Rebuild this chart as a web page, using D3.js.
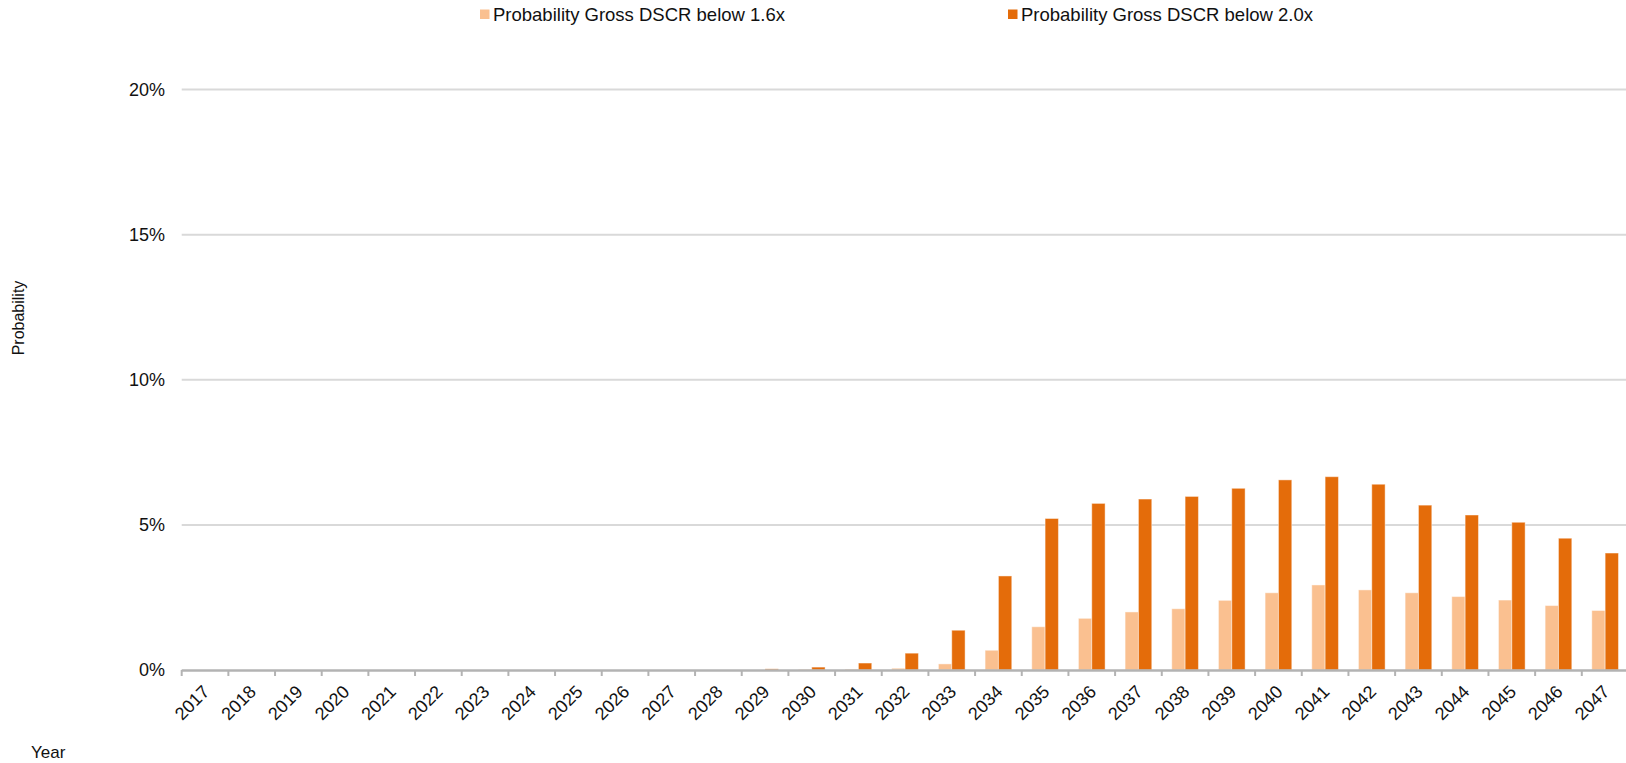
<!DOCTYPE html>
<html>
<head>
<meta charset="utf-8">
<script src="https://cdn.jsdelivr.net/npm/d3@7"></script>
<style>
  html, body { margin: 0; padding: 0; background: #fff; }
  svg { display: block; font-family: "Liberation Sans", Arial, sans-serif; }
</style>
</head>
<body>
<svg id="chart" width="1626" height="763"></svg>
<script>
// Yearly probability that gross DSCR falls below each threshold
const years = d3.range(2017, 2048).map(String);
const below16 = [0, 0, 0, 0, 0, 0, 0, 0, 0, 0, 0, 0, 0.0000, 0.0002, 0.0003, 0.0006, 0.0021, 0.0068,
  0.0149, 0.0178, 0.0200, 0.0211, 0.0240, 0.0266, 0.0293, 0.0276, 0.0266, 0.0253, 0.0241, 0.0222, 0.0205];
const below20 = [0, 0, 0, 0, 0, 0, 0, 0, 0, 0, 0, 0, 0.0004, 0.0010, 0.0024, 0.0058, 0.0137, 0.0324,
  0.0522, 0.0574, 0.0589, 0.0598, 0.0626, 0.0655, 0.0666, 0.0640, 0.0568, 0.0534, 0.0509, 0.0454, 0.0403];
const seriesNames = ["Probability Gross DSCR below 1.6x", "Probability Gross DSCR below 2.0x"];
const seriesColors = ["#FAC090", "#E46C0A"];
const yTicks = [0, 0.05, 0.10, 0.15, 0.20];

const svg = d3.select("#chart");
const left = 181.7, step = 46.67;
const right = left + step * years.length;
const y0 = 670, yTop = 89.5;

// Category slots (tick boundaries) and bar groups inside them
const xSlot = d3.scaleBand().domain(years).range([left, right]).padding(0);
const x0 = d3.scaleBand().domain(years).range([left, right])
  .paddingInner(20 / step).paddingOuter(10 / step);
const x1 = d3.scaleBand().domain([0, 1]).range([0, x0.bandwidth()]).padding(0);
const y = d3.scaleLinear().domain([0, 0.2]).range([y0, yTop]);

// Horizontal gridlines
svg.append("g").selectAll("line")
  .data(yTicks.filter(d => d > 0)).join("line")
  .attr("x1", left).attr("x2", 1626)
  .attr("y1", d => y(d)).attr("y2", d => y(d))
  .attr("stroke", "#d9d9d9").attr("stroke-width", 2);

// Y tick labels
svg.append("g").selectAll("text")
  .data(yTicks).join("text")
  .attr("x", 165).attr("y", d => y(d))
  .attr("dy", "0.35em").attr("text-anchor", "end")
  .attr("font-size", 18).attr("fill", "#111")
  .text(d => d3.format(".0%")(d));

// Bars
const groups = svg.append("g").selectAll("g")
  .data(years).join("g")
  .attr("transform", d => `translate(${x0(d)},0)`);
groups.selectAll("rect")
  .data((d, i) => [below16[i], below20[i]])
  .join("rect")
  .attr("x", (d, j) => x1(j))
  .attr("width", x1.bandwidth())
  .attr("y", d => y(d))
  .attr("height", d => y0 - y(d))
  .attr("fill", (d, j) => seriesColors[j])
  .attr("stroke", "#fff").attr("stroke-opacity", 0.45).attr("stroke-width", 1);

// Category axis line and boundary ticks
const axis = svg.append("g");
axis.append("line")
  .attr("x1", left).attr("x2", 1626).attr("y1", y0 + 0.5).attr("y2", y0 + 0.5)
  .attr("stroke", "#b3b3b3").attr("stroke-width", 2.5);
axis.selectAll("line.tick")
  .data(years).join("line").attr("class", "tick")
  .attr("x1", d => xSlot(d)).attr("x2", d => xSlot(d))
  .attr("y1", y0).attr("y2", y0 + 6)
  .attr("stroke", "#b3b3b3").attr("stroke-width", 2);

// Rotated year labels
axis.selectAll("text")
  .data(years).join("text")
  .attr("transform", d => `translate(${xSlot(d) + xSlot.bandwidth() / 2 + 1},${y0 + 18.5}) rotate(-45)`)
  .attr("text-anchor", "end").attr("dy", "0.35em")
  .attr("font-size", 18).attr("fill", "#111")
  .text(d => d);

// Axis titles
svg.append("text")
  .attr("transform", "translate(24,318) rotate(-90)")
  .attr("text-anchor", "middle").attr("font-size", 16).attr("fill", "#111")
  .text("Probability");
svg.append("text")
  .attr("x", 31).attr("y", 757.5)
  .attr("font-size", 17).attr("fill", "#111")
  .text("Year");

// Legend
const legendX = [480, 1008];
const legend = svg.append("g").selectAll("g")
  .data(seriesNames).join("g")
  .attr("transform", (d, i) => `translate(${legendX[i]},0)`);
legend.append("rect")
  .attr("x", 0).attr("y", 9.5).attr("width", 9.5).attr("height", 9.5)
  .attr("fill", (d, i) => seriesColors[i]);
legend.append("text")
  .attr("x", 13).attr("y", 20.5)
  .attr("font-size", 18.5).attr("fill", "#111")
  .text(d => d);
</script>
</body>
</html>
